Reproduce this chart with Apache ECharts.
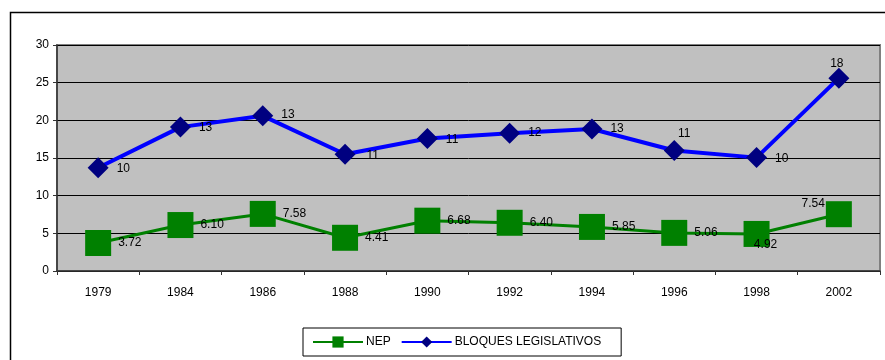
<!DOCTYPE html>
<html>
<head>
<meta charset="utf-8">
<script src="https://cdn.jsdelivr.net/npm/echarts@6/dist/echarts.min.js"></script>
<style>
  html, body { margin: 0; padding: 0; background: #ffffff; }
  #chart { width: 885px; height: 360px; }
</style>
</head>
<body>
<div id="chart"></div>
<script>
// Election years on the category axis
const years = ['1979', '1984', '1986', '1988', '1990', '1992', '1994', '1996', '1998', '2002'];

// Effective number of parties (NEP)
const nep = [3.72, 6.10, 7.58, 4.41, 6.68, 6.40, 5.85, 5.06, 4.92, 7.54];

// Legislative blocs series (plotted values)
const bloques = [13.7, 19.1, 20.6, 15.5, 17.6, 18.3, 18.85, 16.0, 15.05, 25.6];

// Number of blocs printed next to each point of the blocs series
const bloquesCount = [10, 13, 13, 11, 11, 12, 13, 11, 10, 18];

// Value axis ticks
const yTicks = [0, 5, 10, 15, 20, 25, 30];

const FONT = 'Liberation Sans, Arial, sans-serif';

// Per-point label placement for the NEP series
const nepLabelPos = ['right', 'right', 'right', 'right', 'right', 'right', 'right', 'right', 'inside', 'left'];
const nepLabelOffset = [[3, 0], [3, 0], [3, 0], [3, 0], [3, 0], [3, 0], [3, 0], [3, 0], [9, 11], [3, -11]];

// Per-point label placement for the blocs series
const blqLabelPos = ['right', 'right', 'right', 'right', 'right', 'right', 'right', 'top', 'right', 'top'];
const blqLabelOffset = [[3, 1], [3, 1], [3, -1], [6, 1], [3, 1], [3, 0], [3, 0], [10, 5], [3, 1], [-2, 7]];

const chart = echarts.init(document.getElementById('chart'), null, { renderer: 'canvas' });

chart.setOption({
  animation: false,
  backgroundColor: '#ffffff',
  textStyle: { fontFamily: FONT },
  graphic: [{
    type: 'rect',
    shape: { x: 10.5, y: 12.5, width: 900, height: 400 },
    style: { fill: 'none', stroke: '#000000', lineWidth: 1.5 },
    silent: true,
    z: -10
  }],
  grid: {
    left: 57, top: 45, right: 5, bottom: 89,
    show: true,
    backgroundColor: '#C0C0C0',
    borderColor: '#808080',
    borderWidth: 2
  },
  legend: {
    left: 303, top: 328,
    orient: 'horizontal',
    padding: [8, 20, 8, 9],
    itemGap: 10,
    itemWidth: 50,
    itemHeight: 14,
    borderColor: '#000000',
    borderWidth: 1,
    backgroundColor: '#ffffff',
    textStyle: { fontFamily: FONT, fontSize: 12, color: '#000000', padding: [0, 0, 0, -2] },
    data: ['NEP', 'BLOQUES LEGISLATIVOS']
  },
  xAxis: {
    type: 'category',
    data: years,
    boundaryGap: true,
    axisLine: { show: true, lineStyle: { color: '#333333', width: 1.5 } },
    axisTick: { show: true, length: 4, lineStyle: { color: '#333333' } },
    axisLabel: { color: '#000000', fontSize: 12, fontFamily: FONT, margin: 16 },
    splitLine: { show: false }
  },
  yAxis: {
    type: 'value',
    min: yTicks[0],
    max: yTicks[yTicks.length - 1],
    interval: yTicks[1] - yTicks[0],
    axisLine: { show: true, lineStyle: { color: '#333333', width: 1.5 } },
    axisTick: { show: true, length: 4, lineStyle: { color: '#333333' } },
    axisLabel: { color: '#000000', fontSize: 12, fontFamily: FONT, margin: 8 },
    splitLine: { show: true, lineStyle: { color: '#000000', width: 1 } }
  },
  series: [
    {
      name: 'NEP',
      type: 'line',
      symbol: 'rect',
      symbolSize: 26,
      lineStyle: { color: '#008000', width: 3 },
      itemStyle: { color: '#008000' },
      data: nep.map((v, i) => ({
        value: v,
        label: {
          show: true,
          position: nepLabelPos[i],
          offset: nepLabelOffset[i],
          distance: 4,
          formatter: () => v.toFixed(2),
          color: '#000000',
          fontSize: 12,
          fontFamily: FONT
        }
      })),
      z: 3
    },
    {
      name: 'BLOQUES LEGISLATIVOS',
      type: 'line',
      symbol: 'diamond',
      symbolSize: 21,
      lineStyle: { color: '#0000FF', width: 4 },
      itemStyle: { color: '#000080' },
      data: bloques.map((v, i) => ({
        value: v,
        label: {
          show: true,
          position: blqLabelPos[i],
          offset: blqLabelOffset[i],
          distance: 5,
          formatter: () => String(bloquesCount[i]),
          color: '#000000',
          fontSize: 12,
          fontFamily: FONT
        }
      })),
      z: 4
    }
  ]
});
</script>
</body>
</html>
